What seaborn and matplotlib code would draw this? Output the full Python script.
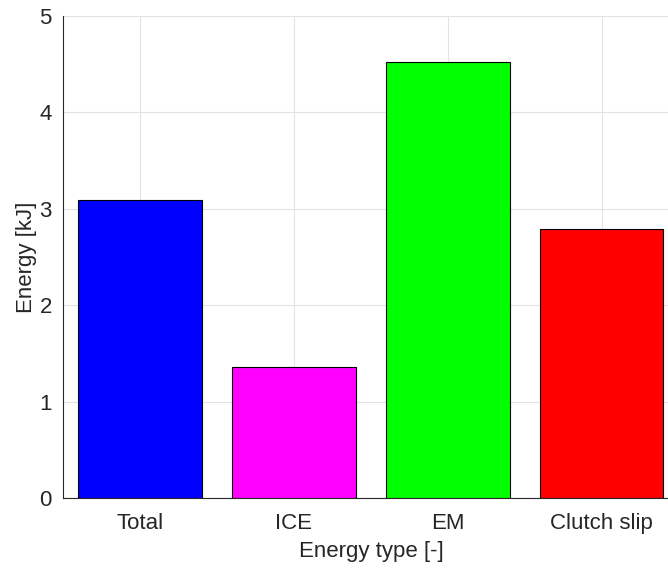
import matplotlib
matplotlib.use("Agg")
import matplotlib.pyplot as plt
import seaborn as sns
import pandas as pd

categories = ["Total", "ICE", "EM", "Clutch slip"]
energy_kj = [3.094, 1.359, 4.52, 2.79]
bar_colors = ["#0000ff", "#ff00ff", "#00ff00", "#ff0000"]

sns.set_theme(style="white")
plt.rcParams["font.family"] = ["Liberation Sans", "DejaVu Sans"]

df = pd.DataFrame({"type": categories, "energy": energy_kj})

fig = plt.figure(figsize=(6.68, 5.69), dpi=100)
ax = fig.add_axes([0.0943, 0.1248, 0.922, 0.8471])

sns.barplot(data=df, x="type", y="energy", hue="type", palette=bar_colors,
            order=categories, hue_order=categories, width=0.8, legend=False,
            edgecolor="black", linewidth=0.8, saturation=1, ax=ax)

ax.set_xlim(-0.5, 3.5)
ax.set_ylim(0, 5)
ax.set_yticks([0, 1, 2, 3, 4, 5])
ax.set_axisbelow(True)
ax.grid(True, color="#e3e3e3", linewidth=0.8)

for side in ["top", "right"]:
    ax.spines[side].set_visible(False)
for side in ["left", "bottom"]:
    ax.spines[side].set_color("#262626")
    ax.spines[side].set_linewidth(0.8)

ax.tick_params(axis="both", direction="in", length=5, width=0.8,
               color="#262626", labelsize=16, labelcolor="#262626")
ax.tick_params(axis="x", pad=11)
ax.tick_params(axis="y", pad=8)

ax.set_xlabel("Energy type [-]", fontsize=16, color="#262626", labelpad=5)
ax.set_ylabel("Energy [kJ]", fontsize=16, color="#262626", labelpad=1.5)

fig.savefig("out.png", dpi=100)
